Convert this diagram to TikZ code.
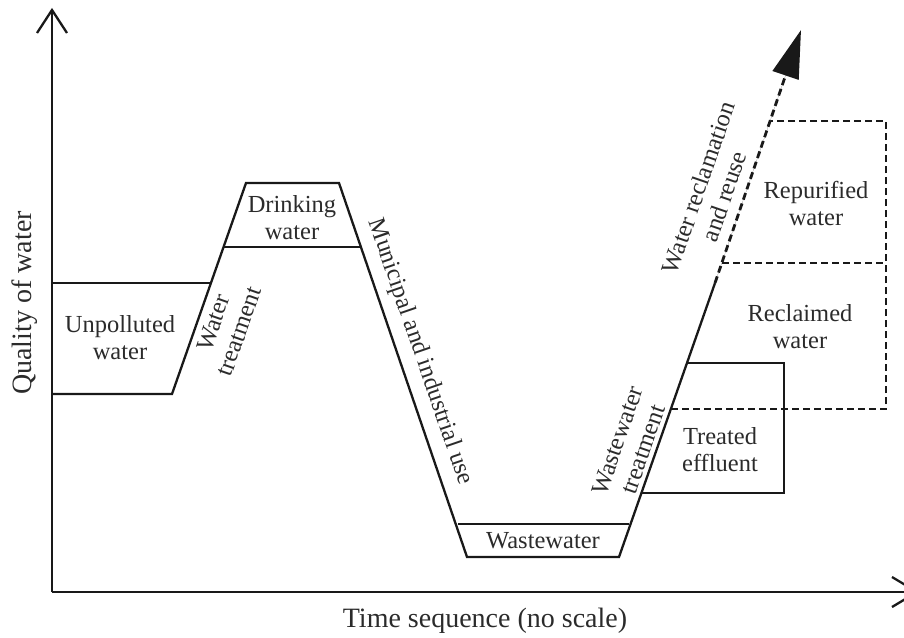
\documentclass[tikz,border=0pt]{standalone}
\usepackage{fontspec}
\setmainfont{Liberation Serif}
\usetikzlibrary{arrows.meta}
\definecolor{ink}{rgb}{0.1,0.1,0.1}
\definecolor{txt}{rgb}{0.17,0.17,0.17}
\begin{document}
\begin{tikzpicture}[x=1pt,y=-1pt,
  solidline/.style={line width=2.3pt, draw=ink, line join=miter},
  dashline/.style={line width=2.8pt, draw=ink, dash pattern=on 7pt off 4pt},
  lbl/.style={font=\fontsize{24.5}{27}\selectfont, align=center, inner sep=0pt, text=txt},
  axl/.style={font=\fontsize{28}{30}\selectfont, inner sep=0pt, text=txt}]
\useasboundingbox (0,0) rectangle (904,637);
\clip (0,0) rectangle (904,637);
% axes
\coordinate (O) at (52,592);
\coordinate (Ytip) at (52,10);
\coordinate (Yl) at (37,33);
\coordinate (Yr) at (67,33);
\coordinate (Xtip) at (917,592);
\coordinate (Xu) at (892,577);
\coordinate (Xd) at (892,607);
\draw[solidline] (O) -- (Ytip);
\draw[solidline] (Yl) -- (Ytip) -- (Yr);
\draw[solidline] (O) -- (Xtip);
\draw[solidline] (Xu) -- (Xtip) -- (Xd);
% main curve
\coordinate (u1) at (52,283);
\coordinate (u2) at (211,283);
\coordinate (u3) at (52,394);
\coordinate (a1) at (172,394);
\coordinate (d1) at (246,183);
\coordinate (d2) at (339,183);
\coordinate (db1) at (224,247);
\coordinate (db2) at (361,247);
\coordinate (w1) at (467,557);
\coordinate (wt1) at (458,524);
\coordinate (wt2) at (629,524);
\coordinate (w2) at (619,557);
\coordinate (s1) at (715,283);
\coordinate (tip) at (801,30);
\draw[solidline] (u3) -- (a1) -- (d1) -- (d2) -- (w1) -- (w2) -- (s1);
\draw[solidline] (u1) -- (u2);
\draw[solidline] (db1) -- (db2);
\draw[solidline] (wt1) -- (wt2);
% treated effluent
\coordinate (t1) at (642,493);
\coordinate (t2) at (784,493);
\coordinate (t3) at (784,363);
\coordinate (t4) at (687,363);
\draw[solidline] (t1) -- (t2) -- (t3) -- (t4);
% dashed
\draw[dashline, -{Triangle[length=48pt,width=27pt]}, fill=ink] (s1) -- (tip);
\coordinate (r1) at (671,409);
\coordinate (r2) at (886,409);
\coordinate (r3) at (886,121);
\coordinate (r4) at (771,121);
\coordinate (m1) at (722,263);
\coordinate (m2) at (886,263);
\draw[dashline] (r1) -- (r2) -- (r3) -- (r4);
\draw[dashline] (m1) -- (m2);
% labels
\node[axl, rotate=90] (qual) at (25,303) {Quality of water};
\node[axl] (time) at (485,621) {Time sequence (no scale)};
\node[lbl] (unp) at (120,338) {Unpolluted\\water};
\node[lbl, rotate=70.7] (wtr) at (226,327) {Water\\treatment};
\node[lbl] (drk) at (292,218) {Drinking\\water};
\node[lbl, rotate=-71] (mun) at (420,352) {Municipal and industrial use};
\node[lbl] (ww) at (543,541) {Wastewater};
\node[lbl, rotate=71] (wwt) at (630,445) {Wastewater\\treatment};
\node[lbl] (tre) at (720,450) {Treated\\effluent};
\node[lbl] (rec) at (800,327) {Reclaimed\\water};
\node[lbl] (rep) at (816,203) {Repurified\\water};
\node[lbl, rotate=71] (wrr) at (711,192) {Water reclamation\\and reuse};
\end{tikzpicture}
\end{document}
